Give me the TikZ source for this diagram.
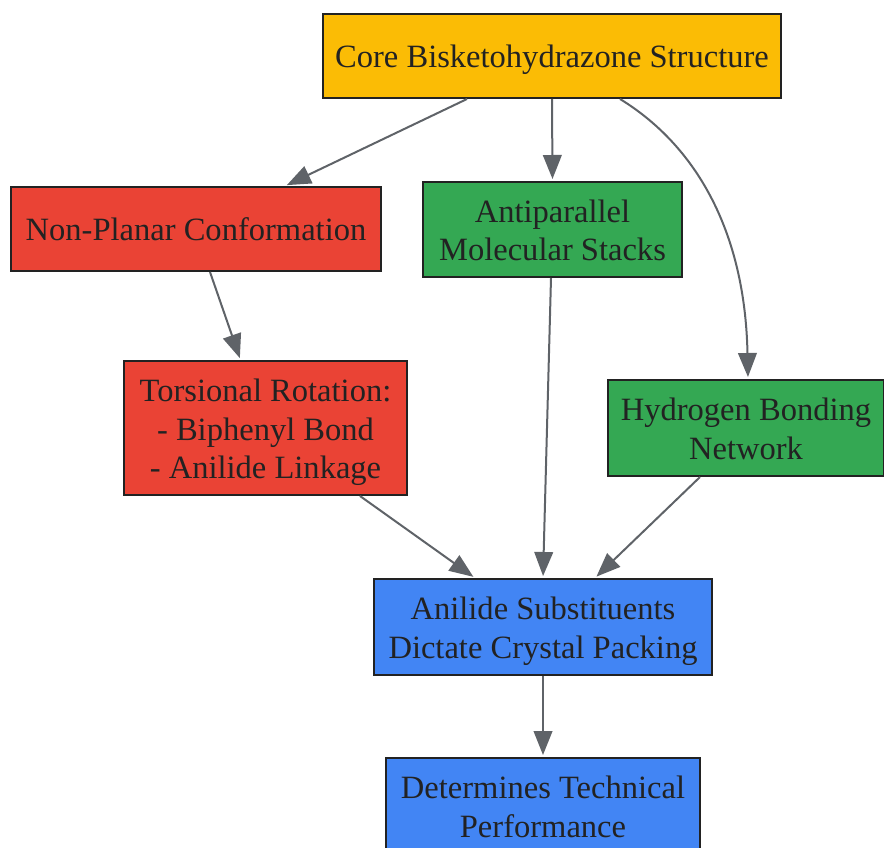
\documentclass[tikz,border=0pt]{standalone}
\usepackage{fontspec}
\setmainfont{Liberation Serif}
\usepackage{tikz}
\usetikzlibrary{arrows.meta}
\usetikzlibrary{calc}
\usetikzlibrary{positioning}

\definecolor{cyellow}{RGB}{251,188,5}
\definecolor{cred}{RGB}{234,67,53}
\definecolor{cgreen}{RGB}{52,168,83}
\definecolor{cblue}{RGB}{66,133,244}
\definecolor{cedge}{RGB}{95,99,104}
\definecolor{ctext}{RGB}{34,34,34}

% struts for first and last line of a box
\newcommand{\topstrut}{\rule{0pt}{28pt}}
\newcommand{\botstrut}{\rule[-10pt]{0pt}{10pt}}

\tikzset{
  box/.style={draw={rgb,255:red,34;green,34;blue,34}, line width=1.5pt, text=ctext, align=center,
    font=\fontsize{24.4}{29}\selectfont, inner sep=0pt},
  link/.style={draw=cedge, line width=1.5pt, -{Triangle[length=18pt,width=14pt]}, shorten >=1.5pt}
}

\begin{document}
\begin{tikzpicture}[x=0.75pt,y=0.75pt,yscale=-1,xscale=1]
\useasboundingbox (0,0) rectangle (884,848);

%Shapes
\node [box, fill=cyellow, minimum width=343.5pt, minimum height=63pt] (core) at (552,56) {\topstrut Core Bisketohydrazone Structure\botstrut};
\node [box, fill=cred, minimum width=277.5pt, minimum height=63pt] (planar) at (196,229) {\topstrut Non-Planar Conformation\botstrut};
\node [box, fill=cgreen, minimum width=194.25pt, minimum height=71.25pt] (stacks) at (552.5,229.5) {\topstrut Antiparallel\\Molecular Stacks\botstrut};
\node [box, fill=cred, minimum width=212.25pt, minimum height=100.5pt] (torsion) at (265.5,428) {\topstrut Torsional Rotation:\\- Biphenyl Bond\\- Anilide Linkage\botstrut};
\node [box, fill=cgreen, minimum width=207pt, minimum height=72pt] (hbond) at (746,428) {\topstrut Hydrogen Bonding\\Network\botstrut};
\node [box, fill=cblue, minimum width=253.5pt, minimum height=72pt] (packing) at (543,627) {\topstrut Anilide Substituents\\Dictate Crystal Packing\botstrut};
\node [box, fill=cblue, minimum width=235.5pt, minimum height=72pt] (perform) at (543,806) {\topstrut Determines Technical\\Performance\botstrut};

%Connectors
\draw [link] ($(core.south)+(-85,0)$) -- ($(planar.north)+(89,0)$);
\draw [link] (core.south) -- (stacks.north);
\draw [link] ($(core.south)+(68,0)$) .. controls (695,145) and (745,230) .. ($(hbond.north)+(2,0)$);
\draw [link] ($(planar.south)+(14,0)$) -- ($(torsion.north)+(-25,0)$);
\draw [link] ($(stacks.south)+(-1.5,0)$) -- (packing.north);
\draw [link] ($(torsion.south)+(94.5,0)$) -- ($(packing.north)+(-68,0)$);
\draw [link] ($(hbond.south)+(-46,0)$) -- ($(packing.north)+(52,0)$);
\draw [link] (packing.south) -- (perform.north);

\end{tikzpicture}
\end{document}
